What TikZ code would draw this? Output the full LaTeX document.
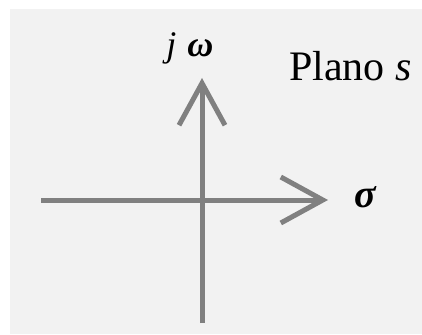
\documentclass[tikz,border=0pt]{standalone}
\usepackage{fontspec}
\setmainfont{Liberation Serif}
\usepackage{xcolor}
\usepackage{tikz}
\usetikzlibrary{arrows.meta}
\definecolor{axisgray}{HTML}{808080}
\definecolor{planebg}{HTML}{F2F2F2}

\begin{document}
\begin{tikzpicture}[
    x=1pt, y=-1pt,
    axis/.style={draw=axisgray, line width=5pt, -{Straight Barb[length=42pt, width=46pt, line width=5pt]}},
    lbl/.style={inner sep=0pt, font=\fontsize{36}{40}\selectfont\itshape}
]
\useasboundingbox (0,0) rectangle (422,334);
\fill[planebg] (10,9) rectangle (422,334);

\coordinate (sigL) at (41,200);
\coordinate (sigR) at (328,200);
\coordinate (omB) at (202,323);
\coordinate (omT) at (202,78);

\draw[axis] (sigL) -- (sigR);
\draw[axis] (omB) -- (omT);

\node[lbl, anchor=base] (jw) at (190,57) {j\hspace{11pt}\textbf{ω}};
\node[lbl, anchor=base, font=\fontsize{40}{44}\selectfont\itshape\bfseries] (sigma) at (365,207) {σ};
\node[lbl, anchor=base west, font=\fontsize{42}{46}\selectfont] (plano) at (289,81) {Plano \textit{s}};
\end{tikzpicture}
\end{document}
